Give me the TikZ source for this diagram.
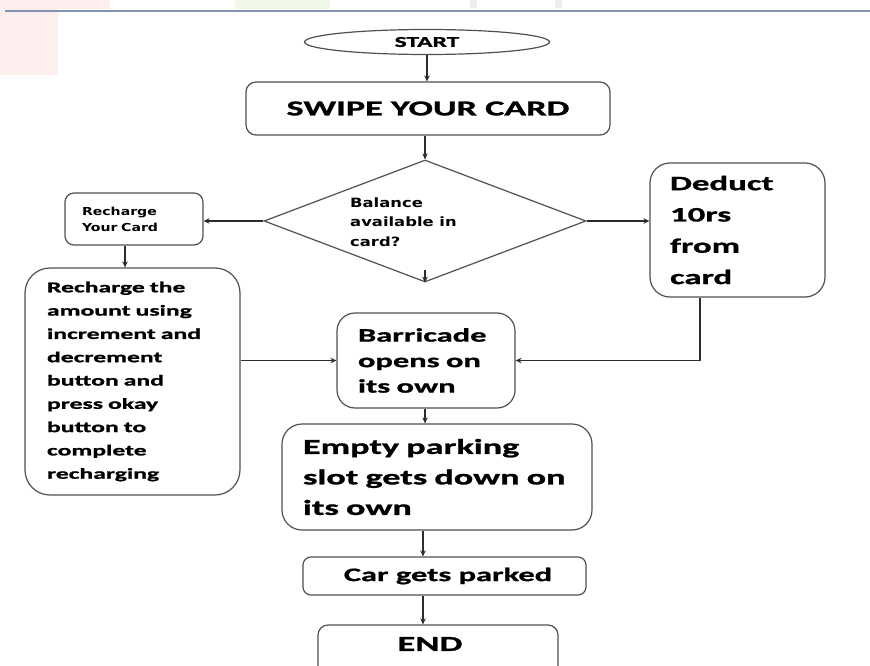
\documentclass[tikz,border=0pt]{standalone}
\usepackage{fontspec}
\setmainfont{Carlito}
\newfontfamily\cw[FakeStretch=1.7,FakeBold=1.2]{Carlito}
\newfontfamily\vw[FakeStretch=1.28]{DejaVu Sans}
\usetikzlibrary{shapes.geometric,arrows.meta}
\definecolor{boxline}{RGB}{80,80,80}
\definecolor{arrline}{RGB}{45,45,45}
\definecolor{topline}{RGB}{130,148,178}
\definecolor{wmpink}{RGB}{255,238,238}
\definecolor{wmgreen}{RGB}{240,248,232}
\definecolor{wmgray}{RGB}{238,238,238}
\tikzset{
  box/.style={draw=boxline, line width=1.2pt, fill=white},
  arr/.style={draw=arrline, line width=1.1pt, -{Stealth[length=6pt,width=5.5pt]}},
}
\begin{document}
\begin{tikzpicture}[x=1pt,y=-1pt]
\useasboundingbox (0,0) rectangle (870,666);
\clip (0,0) rectangle (870,666);
% faint watermark and header rule
\fill[wmpink] (0,0) rectangle (58,75);
\fill[wmpink] (58,0) rectangle (110,9);
\fill[wmgreen] (235,0) rectangle (330,9);
\fill[wmgray] (470,0) rectangle (477,8);
\fill[wmgray] (555,0) rectangle (562,8);
\draw[topline, line width=2.5pt] (5,11) -- (870,11);

% nodes
\node[box, ellipse, minimum width=245pt, minimum height=25pt, inner sep=0pt,
      font=\cw\bfseries\fontsize{15}{18}\selectfont] (start) at (427,42) {START};

\node[box, rounded corners=10pt, minimum width=364pt, minimum height=53pt, inner sep=0pt,
      font=\cw\bfseries\fontsize{21.3}{25}\selectfont] (swipe) at (428,108.5) {SWIPE YOUR CARD};

\node[box, diamond, minimum width=322pt, minimum height=122pt, inner sep=0pt] (dia) at (425,221) {};
\node[anchor=west, align=left, inner sep=0pt,
      font=\vw\bfseries\fontsize{12.8}{19.5}\selectfont] (diaT) at (350,222)
      {Balance\\available in\\card?};

\node[box, rounded corners=9pt, minimum width=138pt, minimum height=52pt, inner xsep=17pt, inner ysep=0pt,
      text width=104pt, align=left,
      font=\vw\bfseries\fontsize{11}{16}\selectfont] (rech) at (134,219)
      {Recharge\\Your Card\\[-6pt]};

\node[box, rounded corners=25pt, minimum width=215pt, minimum height=227pt, inner xsep=22pt, inner ysep=0pt,
      text width=171pt, align=left,
      font=\cw\bfseries\fontsize{15.1}{23.3}\selectfont] (big) at (132.5,381.5)
      {Recharge the\\amount using\\increment and\\decrement\\button and\\press okay\\button to\\complete\\recharging};

\node[box, rounded corners=20pt, minimum width=175pt, minimum height=134pt, inner xsep=20pt, inner ysep=0pt,
      text width=135pt, align=left,
      font=\cw\bfseries\fontsize{20.5}{31.3}\selectfont] (ded) at (737.5,230)
      {Deduct\\10rs\\from\\card};

\node[box, rounded corners=18pt, minimum width=178pt, minimum height=95pt, inner xsep=21pt, inner ysep=0pt,
      text width=136pt, align=left,
      font=\cw\bfseries\fontsize{19.1}{25.5}\selectfont] (barr) at (426,360.5)
      {Barricade\\opens on\\its own};

\node[box, rounded corners=20pt, minimum width=310pt, minimum height=106pt, inner xsep=21pt, inner ysep=0pt,
      text width=268pt, align=left,
      font=\cw\bfseries\fontsize{21.3}{30.5}\selectfont] (empty) at (437,477)
      {Empty parking\\slot gets down on\\its own};

\node[box, rounded corners=8pt, minimum width=283pt, minimum height=38pt, inner sep=0pt,
      font=\cw\bfseries\fontsize{19.1}{23}\selectfont] (car) at (444.5,576)
      {\hspace*{7pt}Car gets parked};

\node[box, rounded corners=10pt, minimum width=240pt, minimum height=80pt, inner sep=0pt] (endn) at (438,665) {};
\node[inner sep=0pt, font=\cw\bfseries\fontsize{21.5}{25}\selectfont] (endT) at (430,644) {END};

% connectors
\draw[arr] (start.south) -- (start.south |- swipe.north);
\draw[arr] (dia.north |- swipe.south) -- (dia.north);
\draw[arr] (dia.west) -- (dia.west -| rech.east);
\draw[arr] (dia.east) -- (dia.east -| ded.west);
\draw[arr] ([yshift=13pt]dia.south) -- (dia.south);
\draw[arr] ([xshift=-9pt]rech.south) -- ([xshift=-9pt]rech.south |- big.north);
\draw[arr] (barr.west -| big.east) -- (barr.west);
\draw[arr] ([xshift=-37.5pt]ded.south) |- (barr.east);
\draw[arr] ([xshift=-1pt]barr.south) -- ([xshift=-1pt]barr.south |- empty.north);
\draw[arr] ([xshift=-14pt]empty.south) -- ([xshift=-14pt]empty.south |- car.north);
\draw[arr] ([xshift=-21.5pt]car.south) -- ([xshift=-21.5pt]car.south |- endn.north);
\end{tikzpicture}
\end{document}
